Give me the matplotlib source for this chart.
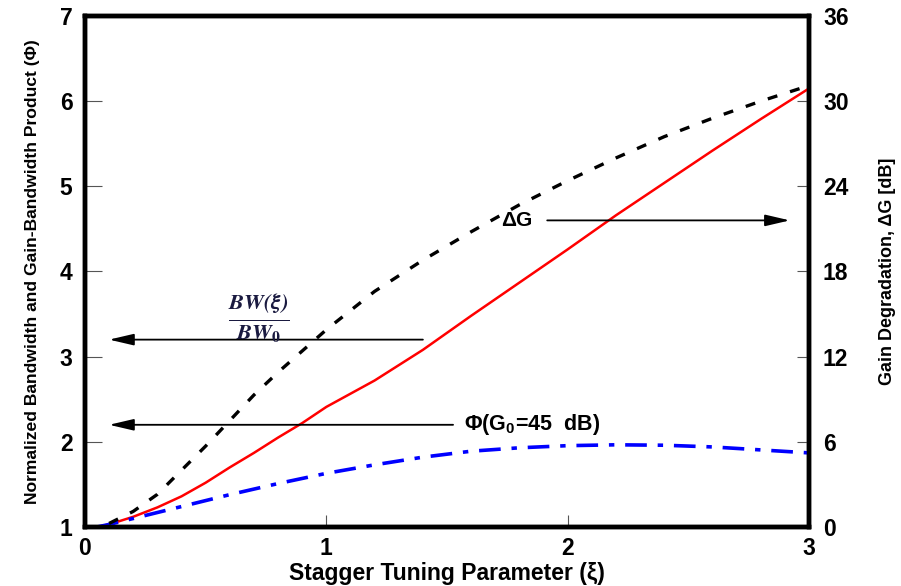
import matplotlib
matplotlib.use("Agg")
import matplotlib.pyplot as plt

plt.rcParams['font.family'] = ['Liberation Sans', 'DejaVu Sans']
plt.rcParams['mathtext.fontset'] = 'stix'

# Data
xi_bw = [0.05, 0.1, 0.2, 0.3, 0.4, 0.5, 0.6, 0.7, 0.8, 0.9, 1.0, 1.2, 1.4, 1.6, 1.8, 2.0, 2.2, 2.4, 2.6, 2.8, 3.0]
bw_ratio = [1.0, 1.03, 1.12, 1.23, 1.36, 1.52, 1.70, 1.87, 2.05, 2.22, 2.41, 2.72, 3.08, 3.48, 3.87, 4.26, 4.66, 5.04, 5.42, 5.79, 6.15]

xi_dg = [0.1, 0.2, 0.3, 0.4, 0.5, 0.6, 0.7, 0.8, 0.9, 1.0, 1.2, 1.4, 1.6, 1.8, 2.0, 2.2, 2.4, 2.6, 2.8, 3.0]
gain_deg = [0.25, 1.1, 2.3, 4.0, 5.7, 7.5, 9.3, 10.9, 12.4, 13.9, 16.6, 18.8, 20.8, 22.7, 24.4, 26.0, 27.5, 28.8, 30.0, 31.1]

xi_phi = [0.05, 0.1, 0.2, 0.3, 0.4, 0.5, 0.6, 0.8, 1.0, 1.2, 1.4, 1.6, 1.8, 2.0, 2.2, 2.4, 2.6, 2.8, 3.0]
phi = [1.0, 1.03, 1.10, 1.17, 1.24, 1.31, 1.38, 1.51, 1.63, 1.73, 1.82, 1.89, 1.93, 1.955, 1.965, 1.96, 1.94, 1.905, 1.87]

x_ticks = [0, 1, 2, 3]
left_ticks = [1, 2, 3, 4, 5, 6, 7]
right_ticks = [0, 6, 12, 18, 24, 30, 36]

fig = plt.figure(figsize=(9.01, 5.86), dpi=100)
ax = fig.add_axes([0.0943, 0.1007, 0.8037, 0.872])
ax2 = ax.twinx()

ax.plot(xi_bw, bw_ratio, color='#ff0000', lw=1.8, zorder=3)
ax.plot(xi_phi, phi, color='#0000ff', lw=2.6, linestyle=(0, (6, 3, 1.5, 3)), zorder=3)
ax2.plot(xi_dg, gain_deg, color='black', lw=2.4, linestyle=(0, (3, 4)), zorder=3)

ax.set_xlim(0, 3)
ax.set_ylim(1, 7)
ax2.set_ylim(0, 36)
ax.set_xticks(x_ticks)
ax.set_yticks(left_ticks)
ax2.set_yticks(right_ticks)

for a in (ax, ax2):
    for s in a.spines.values():
        s.set_linewidth(3.2)
ax.tick_params(axis='y', direction='in', length=12, width=0.8, color='#555555', labelsize=16.5, pad=9)
ax.tick_params(axis='x', direction='in', length=9, width=0.8, color='#555555', labelsize=16.5, pad=7)
ax2.tick_params(axis='y', direction='in', length=9, width=0.8, color='#555555', labelsize=16.5, pad=10)
for lab in ax.get_xticklabels() + ax.get_yticklabels() + ax2.get_yticklabels():
    lab.set_fontweight('heavy')
ax.xaxis.get_major_ticks()[0].tick1line.set_visible(False)
ax.xaxis.get_major_ticks()[-1].tick1line.set_visible(False)
ax.yaxis.get_major_ticks()[0].tick1line.set_visible(False)
ax.yaxis.get_major_ticks()[-1].tick1line.set_visible(False)
ax2.yaxis.get_major_ticks()[0].tick2line.set_visible(False)
ax2.yaxis.get_major_ticks()[-1].tick2line.set_visible(False)

ax.set_xlabel('Stagger Tuning Parameter (\u03be)', fontsize=16.5, fontweight='bold', labelpad=2)
ax.set_ylabel('Normalized Bandwidth and Gain-Bandwidth Product (\u03a6)', fontsize=12.6, fontweight='bold',
              labelpad=14)
ax2.set_ylabel('Gain Degradation, \u0394G [dB]', fontsize=13, fontweight='bold', labelpad=22)

arrow_kw = dict(arrowstyle='-|>,head_length=1.5,head_width=0.35', color='black', lw=1.3, shrinkA=0, shrinkB=0)
ax.annotate('', xy=(0.10, 3.2), xytext=(1.40, 3.2), arrowprops=arrow_kw)
ax.annotate('', xy=(0.10, 2.2), xytext=(1.525, 2.2), arrowprops=arrow_kw)
ax.annotate('', xy=(2.92, 4.6), xytext=(1.915, 4.6), arrowprops=arrow_kw)

ax.text(0.72, 3.45, r'$\frac{\mathbfit{BW(\xi)}}{\mathbfit{BW}_\mathbf{0}}$', fontsize=23, color='#1a1a40',
        ha='center', va='center')
ax.text(1.57, 2.2, '\u03a6(G$_\\mathregular{0}$=45  dB)', fontsize=15.5, fontweight='bold', ha='left', va='center')
ax.text(1.79, 4.6, '\u0394G', fontsize=15, fontweight='bold', ha='center', va='center')

fig.savefig('out.png', dpi=100)
